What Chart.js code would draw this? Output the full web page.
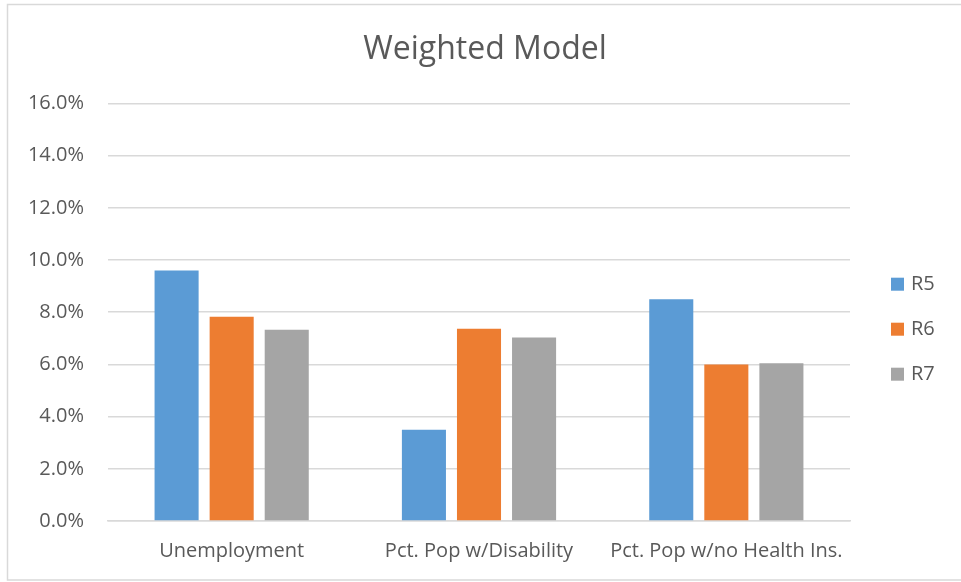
<!DOCTYPE html>
<html>
<head>
<meta charset="utf-8">
<script src="https://cdn.jsdelivr.net/npm/chart.js@4.4.1/dist/chart.umd.min.js"></script>
<style>
    html, body { margin: 0; padding: 0; background: #fff; }
    #wrap { position: relative; width: 961px; height: 582px; }
</style>
</head>
<body>
<div id="wrap"><canvas id="chart" width="961" height="582"></canvas></div>
<script>
// Datos
const categories = ['Unemployment', 'Pct. Pop w/Disability', 'Pct. Pop w/no Health Ins.'];
const seriesNames = ['R5', 'R6', 'R7'];
const r5Values = [9.6, 3.5, 8.5];
const r6Values = [7.83, 7.37, 6.0];
const r7Values = [7.33, 7.03, 6.04];
const yTicks = [0, 2, 4, 6, 8, 10, 12, 14, 16];

const COLORS = {
    r5: '#5B9BD5',
    r6: '#ED7D31',
    r7: '#A5A5A5',
    text: '#595959',
    grid: '#D9D9D9',
};
const FONT = "'Open Sans', sans-serif";

// marco exterior del gráfico
const framePlugin = {
    id: 'frame',
    beforeDraw(chart) {
        const { ctx } = chart;
        ctx.save();
        ctx.strokeStyle = COLORS.grid;
        ctx.lineWidth = 1.5;
        ctx.strokeRect(7.5, 4.5, 970, 575.5);
        ctx.restore();
    }
};

// leyenda vertical a la derecha, estilo Excel
const sideLegend = {
    id: 'sideLegend',
    afterDraw(chart) {
        const { ctx, chartArea } = chart;
        const x = chartArea.right + 41;
        const step = 45;
        const n = chart.data.datasets.length;
        const y0 = (chartArea.top + chartArea.bottom) / 2 + 17 - step * (n - 1) / 2;
        ctx.save();
        ctx.font = `20px ${FONT}`;
        ctx.textBaseline = 'middle';
        ctx.textAlign = 'left';
        chart.data.datasets.forEach((ds, i) => {
            const y = y0 + i * step;
            ctx.fillStyle = ds.backgroundColor;
            ctx.fillRect(x, y - 6.5, 13, 13);
            ctx.fillStyle = COLORS.text;
            ctx.fillText(ds.label, x + 20, y);
        });
        ctx.restore();
    }
};

new Chart(document.getElementById('chart'), {
    type: 'bar',
    data: {
        labels: categories,
        datasets: [
            { label: seriesNames[0], data: r5Values, backgroundColor: COLORS.r5 },
            { label: seriesNames[1], data: r6Values, backgroundColor: COLORS.r6 },
            { label: seriesNames[2], data: r7Values, backgroundColor: COLORS.r7 },
        ]
    },
    options: {
        responsive: false,
        animation: false,
        devicePixelRatio: 1,
        categoryPercentage: 0.668,
        barPercentage: 0.8,
        layout: { padding: { left: 9, right: 0, top: 0, bottom: 9 } },
        scales: {
            y: {
                min: 0,
                max: 16,
                afterBuildTicks: (axis) => { axis.ticks = yTicks.map(v => ({ value: v })); },
                afterFit: (axis) => { axis.width = 99; },
                grid: { color: COLORS.grid, lineWidth: 1.5, drawTicks: false },
                border: { display: false },
                ticks: {
                    padding: 24,
                    color: COLORS.text,
                    font: { family: FONT, size: 20 },
                    callback: (v) => v.toFixed(1) + '%',
                },
            },
            // espacio reservado para la leyenda
            legendSpace: {
                type: 'linear',
                position: 'right',
                display: true,
                grid: { display: false, drawTicks: false },
                border: { display: false },
                ticks: { display: false },
                afterFit: (axis) => { axis.width = 111; },
            },
            x: {
                grid: { display: false },
                border: { color: COLORS.grid, width: 1.5 },
                ticks: {
                    padding: 10,
                    color: COLORS.text,
                    font: { family: FONT, size: 20 },
                    maxRotation: 0,
                },
            }
        },
        plugins: {
            title: {
                display: true,
                text: 'Weighted Model',
                color: COLORS.text,
                font: { family: FONT, size: 32, weight: 'normal' },
                padding: { top: 31, bottom: 34 },
            },
            legend: { display: false },
            tooltip: { enabled: false },
        }
    },
    plugins: [framePlugin, sideLegend]
});
</script>
</body>
</html>
